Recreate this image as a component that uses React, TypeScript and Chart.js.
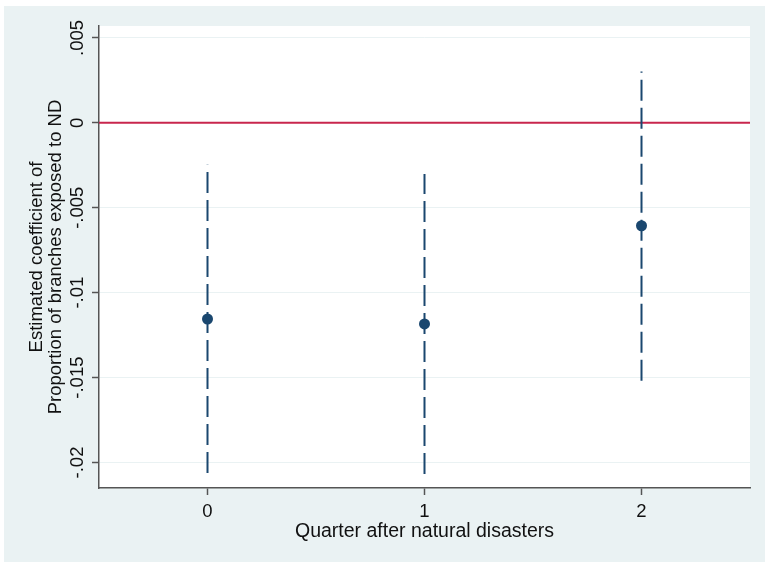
import React, { useEffect, useRef } from "react";
import { Chart, registerables } from "chart.js";

Chart.register(...registerables);

// ---- data ----
const quarters = [0, 1, 2];
const coefficients = [-0.01155, -0.01184, -0.00606];
const ciLower = [-0.02061, -0.02068, -0.01518];
const ciUpper = [-0.00247, -0.00302, 0.00302];

const xTickValues = [0, 1, 2];
const xTickLabels = ["0", "1", "2"];
const yTickValues = [-0.02, -0.015, -0.01, -0.005, 0, 0.005];
const yTickLabels = ["-.02", "-.015", "-.01", "-.005", "0", ".005"];

const xRange = [-0.5, 2.5];
const yRange = [-0.0215, 0.0057];
const referenceValue = 0;

const xTitle = "Quarter after natural disasters";
const yTitle = ["Estimated coefficient of", "Proportion of branches exposed to ND"];

// ---- styles ----
const NAVY = "#1A476F";
const RED = "#C8264D";
const BG = "#EAF2F3";
const AXIS = "#555555";
const FONT = "Arial, 'Liberation Sans', sans-serif";

const backgroundPlugin = {
  id: "stataBackground",
  beforeDraw(chart: any) {
    const { ctx, chartArea, width, height } = chart;
    ctx.save();
    ctx.fillStyle = "#ffffff";
    ctx.fillRect(0, 0, width, height);
    ctx.fillStyle = BG;
    ctx.fillRect(4, 6, width - 5, height - 6);
    ctx.fillStyle = "#ffffff";
    ctx.fillRect(chartArea.left, chartArea.top, chartArea.right - chartArea.left, chartArea.bottom - chartArea.top);
    ctx.restore();
  },
};

export default function App() {
  const ref = useRef<HTMLCanvasElement | null>(null);

  useEffect(() => {
    if (!ref.current) return;
    const ciDatasets = quarters.map((q, i) => ({
      type: "line" as const,
      label: `CI ${q}`,
      data: [
        { x: q, y: ciLower[i] },
        { x: q, y: ciUpper[i] },
      ],
      borderColor: NAVY,
      borderWidth: 2,
      borderDash: [21, 7],
      borderCapStyle: "butt" as const,
      pointRadius: 0,
      showLine: true,
      fill: false,
      order: 2,
    }));

    const chart = new Chart(ref.current, {
      type: "scatter",
      data: {
        datasets: [
          {
            type: "scatter" as const,
            label: "Coefficient",
            data: quarters.map((q, i) => ({ x: q, y: coefficients[i] })),
            backgroundColor: NAVY,
            borderWidth: 0,
            pointRadius: 5.5,
            order: 1,
          },
          ...ciDatasets,
          {
            type: "line" as const,
            label: "Zero",
            data: [
              { x: xRange[0], y: referenceValue },
              { x: xRange[1], y: referenceValue },
            ],
            borderColor: RED,
            borderWidth: 2,
            pointRadius: 0,
            showLine: true,
            fill: false,
            order: 3,
          },
        ] as any,
      },
      options: {
        animation: false,
        responsive: false,
        maintainAspectRatio: false,
        layout: { padding: { left: 0, top: 26, right: 16, bottom: 0 } },
        plugins: {
          legend: { display: false },
          tooltip: { enabled: false },
        },
        scales: {
          x: {
            type: "linear",
            min: xRange[0],
            max: xRange[1],
            afterBuildTicks: (scale: any) => {
              scale.ticks = xTickValues.map((v) => ({ value: v }));
            },
            afterFit: (scale: any) => {
              scale.height = 74;
            },
            grid: {
              drawOnChartArea: false,
              drawTicks: true,
              tickLength: 7,
              tickColor: AXIS,
              tickWidth: 1.5,
            },
            border: { display: true, color: AXIS, width: 1.5 },
            ticks: {
              autoSkip: false,
              padding: 6,
              color: "#111111",
              font: { family: FONT, size: 18.5 },
              callback: (_v: any, i: number) => xTickLabels[i],
            },
            title: {
              display: true,
              text: xTitle,
              color: "#111111",
              font: { family: FONT, size: 19.5 },
              padding: { top: 0, bottom: 19 },
            },
          },
          y: {
            type: "linear",
            min: yRange[0],
            max: yRange[1],
            afterBuildTicks: (scale: any) => {
              scale.ticks = yTickValues.map((v) => ({ value: v }));
            },
            afterFit: (scale: any) => {
              scale.width = 99;
            },
            grid: {
              color: BG,
              lineWidth: 1,
              drawTicks: true,
              tickLength: 7,
              tickColor: AXIS,
              tickWidth: 1.5,
            },
            border: { display: true, color: AXIS, width: 1.5 },
            ticks: {
              autoSkip: false,
              minRotation: 90,
              maxRotation: 90,
              crossAlign: "center",
              padding: -6.6,
              color: "#111111",
              font: { family: FONT, size: 18.5 },
              callback: (_v: any, i: number) => yTickLabels[i],
            },
            title: {
              display: true,
              text: yTitle,
              color: "#111111",
              font: { family: FONT, size: 18.5, lineHeight: 1.01 },
              padding: { top: 27.5, bottom: 0 },
            },
          },
        },
      },
      plugins: [backgroundPlugin],
    });
    return () => chart.destroy();
  }, []);

  return (
    <div style={{ position: "fixed", left: 0, top: 0, width: 766, height: 562, background: "#ffffff" }}>
      <canvas ref={ref} width={766} height={562} style={{ display: "block", width: 766, height: 562 }} />
    </div>
  );
}
